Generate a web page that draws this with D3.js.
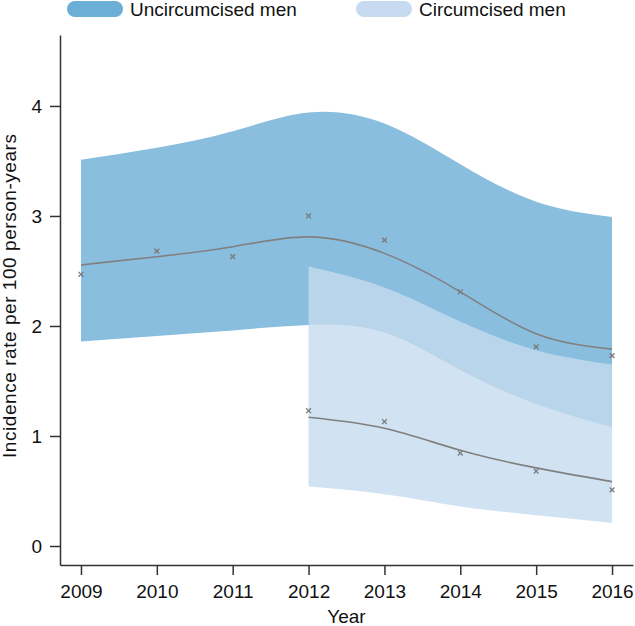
<!DOCTYPE html>
<html>
<head>
<meta charset="utf-8">
<script src="https://cdn.jsdelivr.net/npm/d3@7/dist/d3.min.js"></script>
<style>
  html, body { margin: 0; padding: 0; background: #fff; }
  svg { display: block; font-family: "Liberation Sans", Arial, Helvetica, sans-serif; }
</style>
</head>
<body>
<svg id="chart" width="635" height="626"></svg>
<script>
// ---- data ----
const yearsAll = [2009, 2010, 2011, 2012, 2013, 2014, 2015, 2016];
const yearsCirc = [2012, 2013, 2014, 2015, 2016];

const uncircObserved = [2.47, 2.68, 2.63, 3.00, 2.78, 2.31, 1.81, 1.73];
const uncircFit      = [2.555, 2.63, 2.72, 2.81, 2.66, 2.31, 1.93, 1.79];
const uncircUpper    = [3.51, 3.62, 3.77, 3.94, 3.84, 3.47, 3.13, 2.99];
const uncircLower    = [1.86, 1.91, 1.96, 2.01, 1.94, 1.60, 1.29, 1.08];

const circObserved = [1.23, 1.13, 0.845, 0.68, 0.51];
const circFit      = [1.17, 1.07, 0.87, 0.71, 0.585];
const circUpper    = [2.54, 2.35, 2.04, 1.78, 1.65];
const circLower    = [0.54, 0.47, 0.36, 0.28, 0.21];

const yTicks = [0, 1, 2, 3, 4];
const legendLabels = ["Uncircumcised men", "Circumcised men"];
const colors = { uncirc: "#6baed6", circ: "#c6dbef" };

// ---- layout ----
const svg = d3.select("#chart");
const FONT = 19;

const x = d3.scaleLinear()
  .domain([2009 - 21 / 76, 2016 + 21 / 76])
  .range([60, 633]);
const y = d3.scaleLinear()
  .domain([-0.1727, 4.645])
  .range([565, 35]);

const curve = d3.curveNatural;

function bandData(years, lo, hi) {
  return years.map((yr, i) => ({ x: yr, lo: lo[i], hi: hi[i] }));
}
const area = d3.area()
  .x(d => x(d.x)).y0(d => y(d.lo)).y1(d => y(d.hi)).curve(curve);
const line = d3.line()
  .x(d => x(d.x)).y(d => y(d.v)).curve(curve);

// bands
svg.append("path")
  .datum(bandData(yearsAll, uncircLower, uncircUpper))
  .attr("d", area)
  .attr("fill", colors.uncirc)
  .attr("fill-opacity", 0.8);
svg.append("path")
  .datum(bandData(yearsCirc, circLower, circUpper))
  .attr("d", area)
  .attr("fill", colors.circ)
  .attr("fill-opacity", 0.8);

// fitted lines
svg.append("path")
  .datum(yearsAll.map((yr, i) => ({ x: yr, v: uncircFit[i] })))
  .attr("d", line)
  .attr("fill", "none")
  .attr("stroke", "#808080")
  .attr("stroke-width", 1.6);
svg.append("path")
  .datum(yearsCirc.map((yr, i) => ({ x: yr, v: circFit[i] })))
  .attr("d", line)
  .attr("fill", "none")
  .attr("stroke", "#808080")
  .attr("stroke-width", 1.6);

// observed crosses
const cross = 2.4;
function drawCrosses(years, vals) {
  svg.append("g").selectAll("path")
    .data(years.map((yr, i) => ({ x: yr, v: vals[i] })))
    .join("path")
    .attr("d", d => {
      const cx = x(d.x), cy = y(d.v);
      return `M${cx - cross},${cy - cross}L${cx + cross},${cy + cross}M${cx - cross},${cy + cross}L${cx + cross},${cy - cross}`;
    })
    .attr("stroke", "#7a7a7a")
    .attr("stroke-width", 1.3)
    .attr("fill", "none");
}
drawCrosses(yearsAll, uncircObserved);
drawCrosses(yearsCirc, circObserved);

// axes
const xAxis = d3.axisBottom(x)
  .tickValues(yearsAll)
  .tickFormat(d3.format("d"))
  .tickSize(10)
  .tickSizeOuter(0)
  .tickPadding(10);
const yAxis = d3.axisLeft(y)
  .tickValues(yTicks)
  .tickFormat(d3.format("d"))
  .tickSize(10)
  .tickSizeOuter(0)
  .tickPadding(8);

const gx = svg.append("g").attr("transform", "translate(0,565)").call(xAxis);
const gy = svg.append("g").attr("transform", "translate(60,0)").call(yAxis);
[gx, gy].forEach(g => {
  g.select(".domain").attr("stroke", "#333").attr("stroke-width", 1.5);
  g.selectAll(".tick line").attr("stroke", "#333").attr("stroke-width", 1.5);
  g.selectAll(".tick text")
    .attr("fill", "#111")
    .style("font-size", FONT + "px")
    .style("font-family", '"Liberation Sans", Arial, Helvetica, sans-serif');
});

// axis titles
svg.append("text")
  .attr("x", (x(2009) + x(2016)) / 2).attr("y", 623)
  .attr("text-anchor", "middle")
  .attr("fill", "#111")
  .style("font-size", FONT + "px")
  .text("Year");
svg.append("text")
  .attr("transform", "translate(16,296) rotate(-90)")
  .attr("text-anchor", "middle")
  .attr("fill", "#111")
  .attr("textLength", 324)
  .attr("lengthAdjust", "spacing")
  .style("font-size", FONT + "px")
  .text("Incidence rate per 100 person-years");

// legend
const legendItems = [
  { label: legendLabels[0], color: colors.uncirc, x: 67 },
  { label: legendLabels[1], color: colors.circ, x: 356 }
];
const lg = svg.append("g");
legendItems.forEach(it => {
  lg.append("rect")
    .attr("x", it.x).attr("y", 1)
    .attr("width", 56).attr("height", 16)
    .attr("rx", 8).attr("ry", 8)
    .attr("fill", it.color);
  lg.append("text")
    .attr("x", it.x + 63).attr("y", 16)
    .attr("fill", "#111")
    .style("font-size", FONT + "px")
    .text(it.label);
});
</script>
</body>
</html>
